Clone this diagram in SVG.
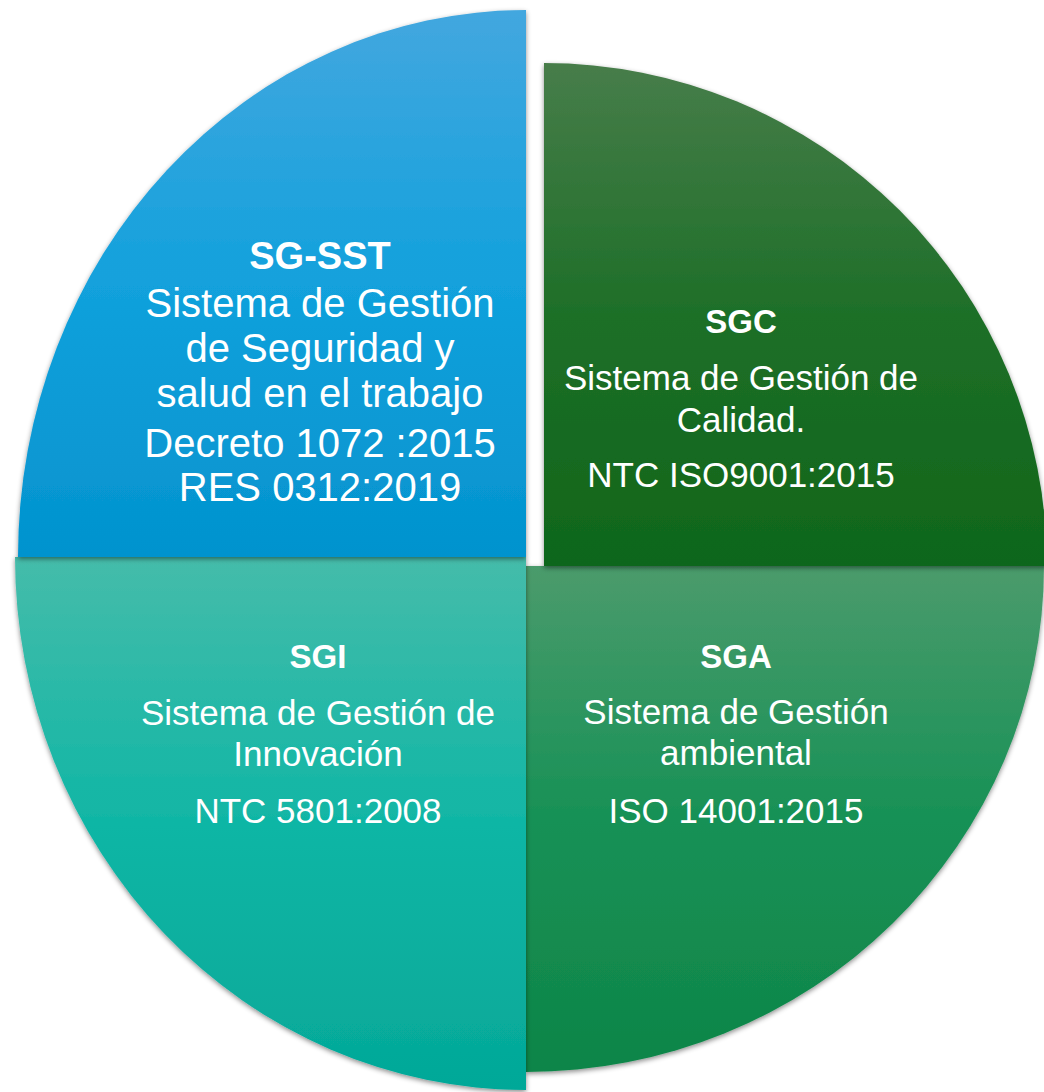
<svg xmlns="http://www.w3.org/2000/svg" width="1044" height="1092" viewBox="0 0 1044 1092">
  <defs>
    <linearGradient id="gBlue" x1="0" y1="0" x2="0" y2="1">
      <stop offset="0" stop-color="#43A7DF"/>
      <stop offset="0.5" stop-color="#12A1DC"/>
      <stop offset="1" stop-color="#0393CE"/>
    </linearGradient>
    <linearGradient id="gDark" x1="0" y1="0" x2="0" y2="1">
      <stop offset="0" stop-color="#477D4A"/>
      <stop offset="0.5" stop-color="#1E6F28"/>
      <stop offset="1" stop-color="#0F661A"/>
    </linearGradient>
    <linearGradient id="gTeal" x1="0" y1="0" x2="0" y2="1">
      <stop offset="0" stop-color="#45BCAA"/>
      <stop offset="0.5" stop-color="#10B6A5"/>
      <stop offset="1" stop-color="#04A898"/>
    </linearGradient>
    <linearGradient id="gGreen" x1="0" y1="0" x2="0" y2="1">
      <stop offset="0" stop-color="#4B9B6C"/>
      <stop offset="0.5" stop-color="#179156"/>
      <stop offset="1" stop-color="#0E8548"/>
    </linearGradient>
    <filter id="shadow" x="-5%" y="-5%" width="110%" height="110%">
      <feDropShadow dx="0" dy="2" stdDeviation="2.5" flood-color="#000" flood-opacity="0.45"/>
    </filter>
  </defs>
  <style>
    .slice { filter: url(#shadow); }
    text { fill: #FFFFFF; font-family: "Liberation Sans", Arial, sans-serif; text-anchor: middle; }
    .t1 { font-weight: bold; font-size: 38px; }
    .b1 { font-size: 40px; }
    .t2 { font-weight: bold; font-size: 33px; }
    .b2 { font-size: 35px; }
  </style>
  <rect width="1044" height="1092" fill="#FFFFFF"/>

  <g id="sga">
    <path class="slice" d="M526,566 L1044,566 A518,506 0 0 1 526,1072 Z" fill="url(#gGreen)"/>
    <text class="t2" x="736" y="668">SGA</text>
    <text class="b2" x="736" y="724">Sistema de Gestión</text>
    <text class="b2" x="736" y="765">ambiental</text>
    <text class="b2" x="736" y="823">ISO 14001:2015</text>
  </g>

  <g id="sgi">
    <path class="slice" d="M526,557 L526,1090 A511,533 0 0 1 15,557 Z" fill="url(#gTeal)"/>
    <text class="t2" x="318" y="668">SGI</text>
    <text class="b2" x="318" y="725">Sistema de Gestión de</text>
    <text class="b2" x="318" y="766">Innovación</text>
    <text class="b2" x="318" y="823">NTC 5801:2008</text>
  </g>

  <g id="sgc">
    <path class="slice" d="M544,566 L544,63 A503,503 0 0 1 1047,566 Z" fill="url(#gDark)"/>
    <text class="t2" x="741" y="333">SGC</text>
    <text class="b2" x="741" y="390">Sistema de Gestión de</text>
    <text class="b2" x="741" y="432">Calidad.</text>
    <text class="b2" x="741" y="487">NTC ISO9001:2015</text>
  </g>

  <g id="sg-sst">
    <path class="slice" d="M526,557 L18,557 A508,547 0 0 1 526,10 Z" fill="url(#gBlue)"/>
    <text class="t1" x="320" y="269">SG-SST</text>
    <text class="b1" x="320" y="317">Sistema de Gestión</text>
    <text class="b1" x="320" y="362">de Seguridad y</text>
    <text class="b1" x="320" y="407">salud en el trabajo</text>
    <text class="b1" x="320" y="457">Decreto 1072 :2015</text>
    <text class="b1" x="320" y="501">RES 0312:2019</text>
  </g>

  <g id="connectors"/>
</svg>
